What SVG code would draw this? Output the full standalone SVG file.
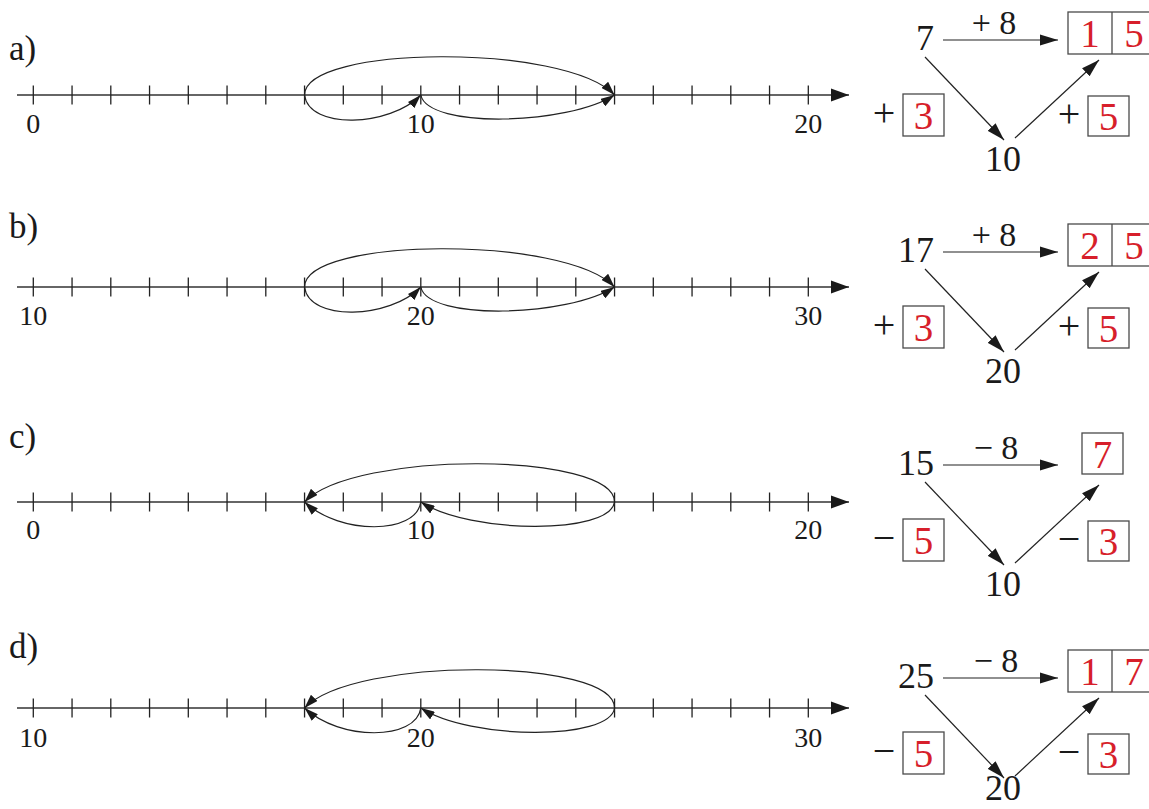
<svg xmlns="http://www.w3.org/2000/svg" width="1149" height="809" viewBox="0 0 1149 809">
<defs>
<marker id="axhead" markerUnits="userSpaceOnUse" markerWidth="18" markerHeight="14" refX="18" refY="7" orient="auto" viewBox="0 0 18 14"><path d="M0,0.5 L18,7 L0,13.5 z" fill="#1a1a1a"/></marker>
<marker id="archead" markerUnits="userSpaceOnUse" markerWidth="14" markerHeight="9" refX="14" refY="4.5" orient="auto" viewBox="0 0 14 9"><path d="M0,0 L14,4.5 L0,9 z" fill="#1a1a1a"/></marker>
<marker id="arrhead" markerUnits="userSpaceOnUse" markerWidth="18" markerHeight="12" refX="18" refY="6" orient="auto" viewBox="0 0 18 12"><path d="M0,0.5 L18,6 L0,11.5 z" fill="#1a1a1a"/></marker>
<g id="numline">
<path d="M17,0 H849" fill="none" stroke="#333" stroke-width="1.6" marker-end="url(#axhead)"/>
<path d="M33.3,-9.5V9.5M72.05,-9.5V9.5M110.8,-9.5V9.5M149.55,-9.5V9.5M188.3,-9.5V9.5M227.05,-9.5V9.5M265.8,-9.5V9.5M304.55,-9.5V9.5M343.3,-9.5V9.5M382.05,-9.5V9.5M420.8,-9.5V9.5M459.55,-9.5V9.5M498.3,-9.5V9.5M537.05,-9.5V9.5M575.8,-9.5V9.5M614.55,-9.5V9.5M653.3,-9.5V9.5M692.05,-9.5V9.5M730.8,-9.5V9.5M769.55,-9.5V9.5M808.3,-9.5V9.5" stroke="#222" stroke-width="1.3"/>
</g>
</defs>
<style>
.t{font-family:"Liberation Serif","Times New Roman",serif;fill:#1a1a1a}
.lab{font-size:35px}
.nl{font-size:28px;text-anchor:middle}
.num{font-size:36px}
.op{font-size:34px;text-anchor:middle}
.sg{font-size:40px;text-anchor:middle}
.red{font-family:"Liberation Serif","Times New Roman",serif;fill:#d71f2b;font-size:39px;text-anchor:middle}
.box{fill:none;stroke:#4a4a4a;stroke-width:1.3}
.arc{fill:none;stroke:#222;stroke-width:1.2;marker-end:url(#archead)}
.arr{fill:none;stroke:#222;stroke-width:1.2;marker-end:url(#arrhead)}
</style>

<!-- panel labels -->
<g id="labels">
<text class="t lab" x="9" y="60">a)</text>
<text class="t lab" x="9" y="238">b)</text>
<text class="t lab" x="9" y="448">c)</text>
<text class="t lab" x="9" y="658">d)</text>
</g>

<!-- number lines -->
<g id="numline-a" transform="translate(0,95)">
<use href="#numline"/>
<text class="t nl" x="33.3" y="38">0</text>
<text class="t nl" x="420.8" y="38">10</text>
<text class="t nl" x="808.3" y="38">20</text>
</g>
<g id="numline-b" transform="translate(0,287)">
<use href="#numline"/>
<text class="t nl" x="33.3" y="38">10</text>
<text class="t nl" x="420.8" y="38">20</text>
<text class="t nl" x="808.3" y="38">30</text>
</g>
<g id="numline-c" transform="translate(0,502)">
<use href="#numline"/>
<text class="t nl" x="33.3" y="37">0</text>
<text class="t nl" x="420.8" y="37">10</text>
<text class="t nl" x="808.3" y="37">20</text>
</g>
<g id="numline-d" transform="translate(0,708)">
<use href="#numline"/>
<text class="t nl" x="33.3" y="39">10</text>
<text class="t nl" x="420.8" y="39">20</text>
<text class="t nl" x="808.3" y="39">30</text>
</g>

<!-- jump arcs -->
<g id="arcs">
<g transform="translate(0,95)">
<path class="arc" d="M304.55,0 C304.55,-50 565,-52 614.55,0"/>
<path class="arc" d="M304.55,0 C309,35 390,32 420.8,0"/>
<path class="arc" d="M420.8,0 C428,34 568,30 614.55,0"/>
</g>
<g transform="translate(0,287)">
<path class="arc" d="M304.55,0 C304.55,-50 565,-52 614.55,0"/>
<path class="arc" d="M304.55,0 C309,35 390,32 420.8,0"/>
<path class="arc" d="M420.8,0 C428,34 568,30 614.55,0"/>
</g>
<g transform="translate(0,502)">
<path class="arc" d="M614.55,0 C614.55,-50 354,-52 304.55,0"/>
<path class="arc" d="M420.8,0 C416,33 340,33 304.55,0"/>
<path class="arc" d="M614.55,0 C610,33 470,32 420.8,0"/>
</g>
<g transform="translate(0,708)">
<path class="arc" d="M614.55,0 C614.55,-50 354,-52 304.55,0"/>
<path class="arc" d="M420.8,0 C416,33 340,33 304.55,0"/>
<path class="arc" d="M614.55,0 C610,33 470,32 420.8,0"/>
</g>
</g>

<!-- right diagrams: connectors -->
<g id="connectors">
<g transform="translate(0,40)">
<path class="arr" d="M943,0 H1058"/>
<path class="arr" d="M925,17 L1004,100"/>
<path class="arr" d="M1015,98 L1099,20"/>
</g>
<g transform="translate(0,252)">
<path class="arr" d="M943,0 H1058"/>
<path class="arr" d="M925,17 L1004,100"/>
<path class="arr" d="M1015,98 L1099,20"/>
</g>
<g transform="translate(0,465)">
<path class="arr" d="M943,0 H1058"/>
<path class="arr" d="M925,17 L1004,100"/>
<path class="arr" d="M1015,98 L1099,20"/>
</g>
<g transform="translate(0,678)">
<path class="arr" d="M943,0 H1058"/>
<path class="arr" d="M925,17 L1004,100"/>
<path class="arr" d="M1015,98 L1099,20"/>
</g>
</g>

<!-- panel a nodes -->
<g id="a-start" transform="translate(0,40)"><text class="t num" x="934" y="10" text-anchor="end">7</text></g>
<g id="a-op" transform="translate(0,40)"><text class="t op" x="994" y="-6">+ 8</text></g>
<g id="a-result" transform="translate(0,40)"><rect class="box" x="1068" y="-28" width="88" height="42"/><line class="box" x1="1112" y1="-28" x2="1112" y2="14"/><text class="red" x="1090" y="7">1</text><text class="red" x="1134" y="7">5</text></g>
<g id="a-mid" transform="translate(0,40)"><text class="t num" x="1003" y="131" text-anchor="middle">10</text></g>
<g id="a-left" transform="translate(0,40)"><text class="t sg" x="884" y="86">+</text><rect class="box" x="903" y="54" width="41" height="42"/><text class="red" x="923.5" y="89">3</text></g>
<g id="a-right" transform="translate(0,40)"><text class="t sg" x="1069" y="87">+</text><rect class="box" x="1088" y="56" width="41" height="40"/><text class="red" x="1108.5" y="90">5</text></g>

<!-- panel b nodes -->
<g id="b-start" transform="translate(0,252)"><text class="t num" x="934" y="10" text-anchor="end">17</text></g>
<g id="b-op" transform="translate(0,252)"><text class="t op" x="994" y="-6">+ 8</text></g>
<g id="b-result" transform="translate(0,252)"><rect class="box" x="1068" y="-28" width="88" height="42"/><line class="box" x1="1112" y1="-28" x2="1112" y2="14"/><text class="red" x="1090" y="7">2</text><text class="red" x="1134" y="7">5</text></g>
<g id="b-mid" transform="translate(0,252)"><text class="t num" x="1003" y="131" text-anchor="middle">20</text></g>
<g id="b-left" transform="translate(0,252)"><text class="t sg" x="884" y="86">+</text><rect class="box" x="903" y="54" width="41" height="42"/><text class="red" x="923.5" y="89">3</text></g>
<g id="b-right" transform="translate(0,252)"><text class="t sg" x="1069" y="87">+</text><rect class="box" x="1088" y="56" width="41" height="40"/><text class="red" x="1108.5" y="90">5</text></g>

<!-- panel c nodes -->
<g id="c-start" transform="translate(0,465)"><text class="t num" x="934" y="10" text-anchor="end">15</text></g>
<g id="c-op" transform="translate(0,465)"><text class="t op" x="996" y="-6">− 8</text></g>
<g id="c-result" transform="translate(0,465)"><rect class="box" x="1082" y="-32" width="41" height="41"/><text class="red" x="1102.5" y="2.5">7</text></g>
<g id="c-mid" transform="translate(0,465)"><text class="t num" x="1003" y="131" text-anchor="middle">10</text></g>
<g id="c-left" transform="translate(0,465)"><text class="t sg" x="884" y="86">−</text><rect class="box" x="903" y="54" width="41" height="42"/><text class="red" x="923.5" y="89">5</text></g>
<g id="c-right" transform="translate(0,465)"><text class="t sg" x="1069" y="87">−</text><rect class="box" x="1088" y="56" width="41" height="40"/><text class="red" x="1108.5" y="90">3</text></g>

<!-- panel d nodes -->
<g id="d-start" transform="translate(0,678)"><text class="t num" x="934" y="10" text-anchor="end">25</text></g>
<g id="d-op" transform="translate(0,678)"><text class="t op" x="996" y="-6">− 8</text></g>
<g id="d-result" transform="translate(0,678)"><rect class="box" x="1068" y="-28" width="88" height="42"/><line class="box" x1="1112" y1="-28" x2="1112" y2="14"/><text class="red" x="1090" y="7">1</text><text class="red" x="1134" y="7">7</text></g>
<g id="d-mid" transform="translate(0,678)"><text class="t num" x="1003" y="122" text-anchor="middle">20</text></g>
<g id="d-left" transform="translate(0,678)"><text class="t sg" x="884" y="86">−</text><rect class="box" x="903" y="54" width="41" height="42"/><text class="red" x="923.5" y="89">5</text></g>
<g id="d-right" transform="translate(0,678)"><text class="t sg" x="1069" y="87">−</text><rect class="box" x="1088" y="56" width="41" height="40"/><text class="red" x="1108.5" y="90">3</text></g>
</svg>
